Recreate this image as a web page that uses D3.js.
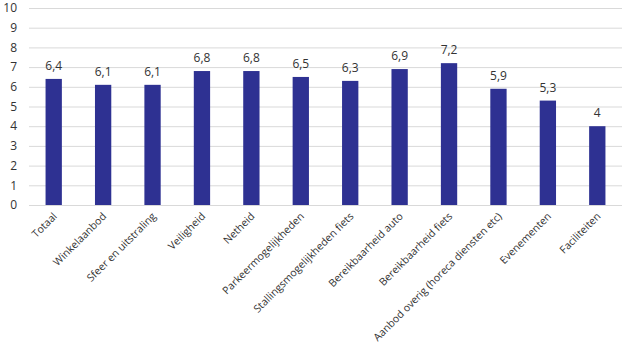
<!DOCTYPE html>
<html><head><meta charset="utf-8">
<script src="https://cdn.jsdelivr.net/npm/d3@7"></script>
<style>
body{margin:0;background:#fff;}
text{font-family:"Open Sans","Noto Sans",sans-serif;fill:#333;}
</style></head>
<body><svg id="c" width="632" height="349"></svg>
<script>
const categories = ["Totaal","Winkelaanbod","Sfeer en uitstraling","Veiligheid","Netheid","Parkeermogelijkheden","Stallingsmogelijkheden fiets","Bereikbaarheid auto","Bereikbaarheid fiets","Aanbod overig (horeca diensten etc)","Evenementen","Faciliteiten"];
const values = [6.4,6.1,6.1,6.8,6.8,6.5,6.3,6.9,7.2,5.9,5.3,4];
const yTicks = [0,1,2,3,4,5,6,7,8,9,10];

const svg = d3.select("#c");
const m = {l:29, r:10, t:8, b:144};
const W = 632, H = 349;
const x = d3.scaleBand().domain(categories).range([m.l, W-m.r]).paddingInner(0.67).paddingOuter(0.335);
const y = d3.scaleLinear().domain([0,10]).range([205, 8]);

svg.append("g").selectAll("line").data(yTicks).join("line")
  .attr("x1", m.l).attr("x2", W-m.r)
  .attr("y1", d=>y(d)+0.5).attr("y2", d=>y(d)+0.5)
  .attr("stroke", "#d9d9d9").attr("stroke-width", 1);

svg.append("g").selectAll("text").data(yTicks).join("text")
  .attr("x", 17).attr("y", d=>y(d)).attr("dy","0.35em")
  .attr("text-anchor","end").style("font-size","12px").text(d=>d);

svg.append("g").selectAll("rect").data(values).join("rect")
  .attr("x", (d,i)=>x(categories[i])).attr("width", x.bandwidth())
  .attr("y", d=>y(d)).attr("height", d=>y(0)-y(d))
  .attr("fill", "#2E3192");

svg.append("g").selectAll("text").data(values).join("text")
  .attr("x", (d,i)=>x(categories[i])+x.bandwidth()/2)
  .attr("y", d=>y(d)-9)
  .attr("text-anchor","middle").style("font-size","12px")
  .text(d=>String(d).replace(".",","));

svg.append("g").selectAll("text").data(categories).join("text")
  .attr("transform", d=>`translate(${x(d)+x.bandwidth()/2+4},${217}) rotate(-45)`)
  .attr("text-anchor","end").style("font-size","10.5px")
  .text(d=>d);
</script></body></html>
